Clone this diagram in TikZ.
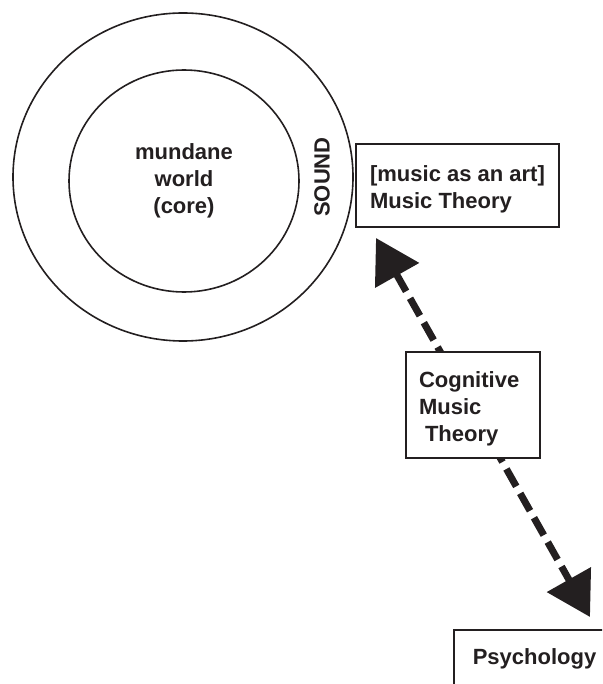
\documentclass[tikz,border=0pt]{standalone}
\usepackage{fontspec}
\setmainfont{Liberation Sans}
\usetikzlibrary{shapes.geometric, arrows.meta}
\definecolor{Ink}{RGB}{35,31,32}

\begin{document}
\begin{tikzpicture}[x=1pt, y=-1pt,
            ring/.style={ellipse, draw=Ink, line width=1.6pt, inner sep=0pt},
            lbl/.style={font=\fontsize{22}{27}\selectfont\bfseries, text=Ink},
            bx/.style={rectangle, draw=Ink, line width=1.6pt, fill=white,
                       align=left, lbl},
            darr/.style={{Triangle[length=43pt,width=49pt]}-{Triangle[length=43pt,width=49pt]},
                         draw=Ink, line width=7pt, dash pattern=on 20pt off 8pt}
          ]
          \clip (0,0) rectangle (602,684);
          % rings: sound around the core
          \node[ring, minimum width=340pt, minimum height=328pt] (sound) at (183,177) {};
          \node[ring, minimum width=230pt, minimum height=222pt, align=center, lbl]
                (core) at (184,181) {mundane\\world\\(core)};
          \node[lbl, rotate=90] (soundlbl) at (322,177) {SOUND};

          % music theory box
          \node[bx, minimum width=203pt, minimum height=83pt]
                (art) at (457.5,185.5) {\rule{0pt}{23pt}[music as an art]\\Music Theory};

          % dashed double arrow down to psychology
          \coordinate (tipart) at (376,238);
          \coordinate (tippsy) at (590,617);
          \draw[darr] (tipart) -- (tippsy);

          \node[bx, text width=108pt, inner xsep=13pt, minimum height=106pt]
                (cog) at (473,405) {\rule{0pt}{24pt}Cognitive\\Music\\\hspace*{6pt}Theory};
          \node[bx, anchor=north west, inner xsep=19pt, minimum height=58pt]
                (psy) at (453,629) {Psychology};
        \end{tikzpicture}
\end{document}
